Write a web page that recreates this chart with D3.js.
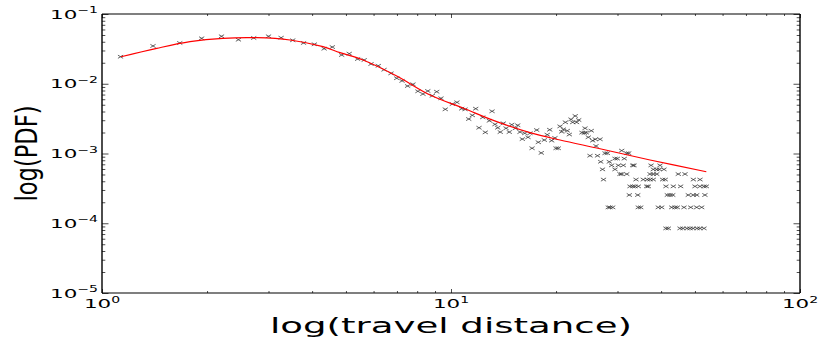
<!DOCTYPE html>
<html lang="en">
<head>
<meta charset="UTF-8">
<title>log(PDF) vs log(travel distance)</title>
<script src="https://d3js.org/d3.v7.min.js"></script>
<style>
    body{ margin:0; background:#fff; }
    svg{ display:block; font-family:"DejaVu Sans", sans-serif; }
</style>
</head>
<body>
<script>

// histogram points: [travel distance, PDF]
const pdfPoints = [
    [1.13,0.0244],[1.40,0.0348],[1.67,0.0384],[1.93,0.0448],[2.20,0.0479],[2.46,0.0428],
    [2.72,0.0453],[3.00,0.0479],[3.26,0.0457],[3.52,0.0420],[3.78,0.0384],[4.06,0.0368],
    [4.33,0.0318],[4.57,0.0336],[4.86,0.0258],[5.11,0.0270],[5.40,0.0226],[5.64,0.0219],
    [5.90,0.0192],[6.19,0.0181],[6.43,0.0159],[6.73,0.0141],[6.99,0.0120],[7.24,0.0110],
    [7.51,0.00928],[7.78,0.00982],[8.04,0.00780],[8.31,0.00713],[8.58,0.00787],[8.84,0.00674],
    [9.10,0.00769],[9.36,0.00619],[9.63,0.00430],
    [10.09,5.12e-3],[10.40,5.42e-3],[10.73,4.39e-3],[10.97,4.30e-3],[11.24,3.12e-3],[11.51,3.53e-3],
    [11.77,4.39e-3],[12.03,2.34e-3],[12.33,3.30e-3],[12.54,2.01e-3],[12.88,2.95e-3],[13.11,4.03e-3],
    [13.37,2.62e-3],[13.61,2.34e-3],[13.84,2.03e-3],[14.12,2.71e-3],[14.38,2.30e-3],[14.69,2.03e-3],
    [14.93,2.59e-3],[15.29,2.30e-3],[15.53,2.54e-3],[15.77,2.03e-3],[16.01,1.61e-3],[16.27,1.95e-3],
    [16.62,1.71e-3],[16.84,1.95e-3],[17.07,1.19e-3],[17.60,2.17e-3],[17.79,1.45e-3],[18.14,1.02e-3],
    [18.51,1.56e-3],[18.87,1.86e-3],[19.18,2.19e-3],[19.43,1.53e-3],[19.85,1.67e-3],[20.00,1.19e-3],
    [20.29,1.19e-3],[20.53,2.45e-3],[20.76,2.05e-3],[20.99,2.22e-3],[21.27,2.80e-3],[21.54,2.12e-3],
    [21.83,1.87e-3],[22.07,3.09e-3],[22.32,2.80e-3],[22.70,3.45e-3],[22.90,2.80e-3],[23.22,3.02e-3],
    [23.73,1.99e-3],[24.10,1.97e-3],[24.21,2.30e-3],[24.42,1.99e-3],[24.74,1.71e-3],[25.02,9.30e-4],
    [25.23,2.12e-3],[25.47,1.53e-3],[25.91,1.60e-3],[26.03,1.28e-3],[26.29,9.30e-4],[26.73,1.60e-3],
    [26.85,7.61e-4],[27.17,5.92e-4],[27.35,4.23e-4],[27.63,1.01e-3],[28.05,1.01e-3],[28.23,1.69e-4],
    [28.42,7.61e-4],[28.54,1.69e-4],[28.86,6.76e-4],[29.06,1.69e-4],[29.51,8.45e-4],[29.51,5.92e-4],
    [29.96,8.45e-4],[30.16,6.76e-4],[30.50,5.07e-4],[30.84,1.10e-3],[30.84,5.07e-4],[31.17,6.76e-4],
    [31.37,8.45e-4],[31.88,1.01e-3],[31.88,5.07e-4],[32.30,1.01e-3],[32.43,2.54e-4],[32.58,3.38e-4],
    [33.16,6.76e-4],[33.16,3.38e-4],[33.45,6.76e-4],[33.67,3.38e-4],[33.89,4.23e-4],[34.28,2.54e-4],
    [34.41,3.38e-4],[34.41,1.69e-4],[34.96,1.69e-4],[35.56,4.23e-4],[36.37,3.38e-4],[36.51,4.23e-4],
    [36.76,3.38e-4],[37.18,4.23e-4],[37.18,5.07e-4],[37.43,6.76e-4],[37.99,4.23e-4],[37.99,5.92e-4],
    [37.99,5.07e-4],[38.85,5.92e-4],[38.85,5.07e-4],[39.26,1.69e-4],[39.54,5.92e-4],[39.71,6.76e-4],
    [40.15,1.69e-4],[40.40,4.23e-4],[40.76,5.92e-4],[41.11,4.23e-4],[41.30,3.38e-4],[41.30,8.45e-5],
    [41.68,2.54e-4],[41.95,8.45e-5],[42.42,2.54e-4],[42.90,1.69e-4],[43.18,2.54e-4],[43.36,3.38e-4],
    [43.83,1.69e-4],[44.50,1.69e-4],[44.80,5.07e-4],[45.32,8.45e-5],[45.50,3.38e-4],[46.20,8.45e-5],
    [46.52,1.69e-4],[46.83,5.07e-4],[47.45,8.45e-5],[47.86,2.54e-4],[48.40,8.45e-5],[48.63,1.69e-4],
    [49.40,8.45e-5],[49.48,4.23e-4],[49.48,2.54e-4],[50.02,3.38e-4],[50.58,1.69e-4],[50.58,2.54e-4],
    [50.70,8.45e-5],[51.70,4.23e-4],[51.70,3.38e-4],[51.70,8.45e-5],[52.27,1.69e-4],[53.07,3.38e-4],
    [53.07,8.45e-5],[53.40,2.54e-4],[53.90,3.38e-4]
]

// fitted curve (red), sampled from the figure
const fitCurve = [
    [1.134,0.0244],[1.435,0.0322],[1.787,0.0401],[2.222,0.0448],[2.776,0.0457],[3.457,0.0424],
    [4.298,0.0340],[4.808,0.0279],[5.596,0.0219],[6.99,0.0129],[8.71,0.0069],[10.82,0.00449],
    [13.52,2.86e-3],[16.84,1.99e-3],[20.53,1.56e-3],[26.73,1.17e-3],[37.18,8.07e-4],[53.9,5.48e-4]
]

const xMajor = [1,10,100]
const xExp = ["0","1","2"]
const yMajor = [1e-5,1e-4,1e-3,1e-2,1e-1]
const yExp = ["\u22125","\u22124","\u22123","\u22122","\u22121"]

const svgSize = {width:818,height:341}
const plot = {left:102,right:800,top:14,bottom:293}
const stretch = 1.65   // the picture is widened horizontally

const svg = d3.select("body").append("svg")
    .attr("width",svgSize.width)
    .attr("height",svgSize.height)

const xScale = d3.scaleLog().domain([1,100]).range([plot.left,plot.right])
const yScale = d3.scaleLog().domain([1e-5,1e-1]).range([plot.bottom,plot.top])

const xMinor = xScale.ticks().filter(d=> !xMajor.includes(d))
const yMinor = yScale.ticks().filter(d=> !yMajor.some(m=> Math.abs(m-d)/m < 1e-6))

// ticks, all pointing inwards
function tickGroup(axis, transform){
    const g = svg.append("g").attr("transform",transform).call(axis)
    g.select(".domain").remove()
    g.selectAll("text").remove()
    g.selectAll("line").attr("stroke","#000").attr("stroke-width",0.7)
}
tickGroup(d3.axisBottom(xScale).tickValues(xMajor).tickSize(-4), `translate(0,${plot.bottom})`)
tickGroup(d3.axisBottom(xScale).tickValues(xMinor).tickSize(-2), `translate(0,${plot.bottom})`)
tickGroup(d3.axisTop(xScale).tickValues(xMajor).tickSize(-4), `translate(0,${plot.top})`)
tickGroup(d3.axisTop(xScale).tickValues(xMinor).tickSize(-2), `translate(0,${plot.top})`)
tickGroup(d3.axisLeft(yScale).tickValues(yMajor).tickSize(-6.5), `translate(${plot.left},0)`)
tickGroup(d3.axisLeft(yScale).tickValues(yMinor).tickSize(-3.3), `translate(${plot.left},0)`)
tickGroup(d3.axisRight(yScale).tickValues(yMajor).tickSize(-6.5), `translate(${plot.right},0)`)
tickGroup(d3.axisRight(yScale).tickValues(yMinor).tickSize(-3.3), `translate(${plot.right},0)`)

// scatter markers "x"
svg.append("g").selectAll("path")
    .data(pdfPoints)
    .enter()
    .append("path")
    .attr("transform",d=> `translate(${xScale(d[0])},${yScale(d[1])})`)
    .attr("d","M-2.6,-1.6L2.6,1.6M-2.6,1.6L2.6,-1.6")
    .attr("fill","none")
    .attr("stroke","#333")
    .attr("stroke-width",0.75)

// fit line
const fitLine = d3.line()
    .x(d=> xScale(d[0]))
    .y(d=> yScale(d[1]))
    .curve(d3.curveCatmullRom)
svg.append("path")
    .attr("d",fitLine(fitCurve))
    .attr("fill","none")
    .attr("stroke","#ff0000")
    .attr("stroke-width",1.2)

// frame
svg.append("line").attr("x1",plot.left).attr("x2",plot.right).attr("y1",plot.top).attr("y2",plot.top)
    .attr("stroke","#000").attr("stroke-width",1.1)
svg.append("line").attr("x1",plot.left).attr("x2",plot.right).attr("y1",plot.bottom).attr("y2",plot.bottom)
    .attr("stroke","#000").attr("stroke-width",1.1)
svg.append("line").attr("x1",plot.left).attr("x2",plot.left).attr("y1",plot.top).attr("y2",plot.bottom)
    .attr("stroke","#000").attr("stroke-width",1.4)
svg.append("line").attr("x1",plot.right).attr("x2",plot.right).attr("y1",plot.top).attr("y2",plot.bottom)
    .attr("stroke","#000").attr("stroke-width",1.4)

// tick labels 10^n
function powerLabel(x, y, exp, anchor){
    const t = svg.append("g")
        .attr("transform",`translate(${x},${y}) scale(${stretch},1)`)
        .append("text")
        .attr("text-anchor",anchor)
        .attr("font-size",13)
        .attr("fill","#000")
    t.append("tspan").text("10")
    t.append("tspan").attr("font-size",8.5).attr("dy",-5.5).text(exp)
}
xMajor.forEach((d,i)=> powerLabel(xScale(d), plot.bottom+15.3, xExp[i], "middle"))
yMajor.forEach((d,i)=> powerLabel(plot.left-4, yScale(d)+4.6, yExp[i], "end"))

// axis titles
svg.append("text")
    .attr("x",(plot.left+plot.right)/2)
    .attr("y",333.3)
    .attr("text-anchor","middle")
    .attr("font-size",22)
    .attr("textLength",362)
    .attr("lengthAdjust","spacingAndGlyphs")
    .text("log(travel distance)")

svg.append("g")
    .attr("transform",`translate(36.7,${(plot.top+plot.bottom)/2}) rotate(-90)`)
    .append("text")
    .attr("text-anchor","middle")
    .attr("font-size",31)
    .attr("textLength",96)
    .attr("lengthAdjust","spacingAndGlyphs")
    .text("log(PDF)")

</script>
</body>
</html>
